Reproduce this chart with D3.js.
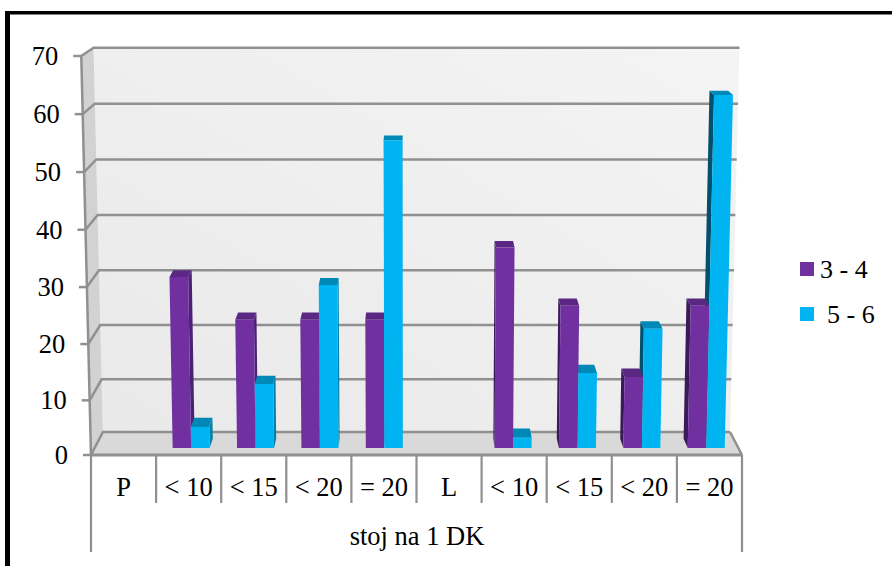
<!DOCTYPE html>
<html>
<head>
<meta charset="utf-8">
<script src="https://cdnjs.cloudflare.com/ajax/libs/d3/7.8.5/d3.min.js"></script>
<style>
  html, body { margin: 0; padding: 0; background: #fff; }
  svg { display: block; }
  text { font-family: "Liberation Serif", serif; fill: #000; }
</style>
</head>
<body>
<svg id="chart" width="892" height="566"></svg>
<script>
// Chart data
const categories = ["P", "< 10", "< 15", "< 20", "= 20", "L", "< 10", "< 15", "< 20", "= 20"];
const slotIds = d3.range(categories.length);
const seriesNames = ["3 - 4", "5 - 6"];
const group34 = [0, 30.9, 23.3, 23.3, 23.3, 0, 36.1, 25.8, 13.1, 25.8];
const group56 = [0, 4.0, 11.8, 29.5, 54.9, 0, 2.0, 13.8, 21.7, 62.8];
const yTicks = [0, 10, 20, 30, 40, 50, 60, 70];
const axisTitle = "stoj na 1 DK";

const svg = d3.select("#chart");

// Front-plane scales; the slight power curve follows the chart's foreshortening
const x = d3.scaleBand().domain(slotIds).range([91, 742]);
const y = d3.scalePow().exponent(1.0216).domain([0, 70]).range([455, 56]);
const inner = d3.scaleBand().domain(seriesNames).range([13.85, 51.25]);

// Perspective: columns lean away from the centre, depth runs to a vanishing point
const cx = 416, vy = -172, lean = 7.5e-5;
const wallDepth = 0.0367, barFront = 0.011, barBack = 0.026;

function project(px, value, depth) {
  const y0 = y(value);
  const x0 = cx + (px - cx) * (1 + lean * (455 - y0));
  return [x0 + (cx - x0) * depth, y0 + (vy - y0) * depth];
}
const poly = pts => "M" + pts.map(p => p.join(",")).join("L") + "Z";

// Wall shading
const wallGrad = svg.append("defs").append("linearGradient").attr("id", "wallGrad")
  .attr("x1", 0).attr("y1", 1).attr("x2", 1).attr("y2", 0);
wallGrad.append("stop").attr("offset", 0).attr("stop-color", "#e9e9e9");
wallGrad.append("stop").attr("offset", 1).attr("stop-color", "#f4f4f4");

const [left, right] = x.range();
const topValue = yTicks[yTicks.length - 1];

// Outer black frame, open towards the right and the bottom
svg.append("path")
  .attr("d", "M5,566V11H892V14.5H10V566Z")
  .attr("fill", "#000");

const scene = svg.append("g");
scene.append("path")
  .attr("d", poly([project(left, 0, wallDepth), project(left, topValue, wallDepth),
                   project(right, topValue, wallDepth), project(right, 0, wallDepth)]))
  .attr("fill", "url(#wallGrad)");
scene.append("path")
  .attr("d", poly([project(left, 0, 0), project(left, topValue, 0),
                   project(left, topValue, wallDepth), project(left, 0, wallDepth)]))
  .attr("fill", "#d2d2d2");
scene.append("path")
  .attr("d", poly([project(left, 0, 0), project(right, 0, 0),
                   project(right, 0, wallDepth), project(left, 0, wallDepth)]))
  .attr("fill", "#d9d9d9");

// Gridlines across the side wall and back wall
const gridColor = "#909090";
scene.append("g").selectAll("path").data(yTicks).join("path")
  .attr("d", v => {
    const a = project(left, v, 0), b = project(left, v, wallDepth), c = project(right, v, wallDepth);
    return `M${a}L${b}L${c}`;
  })
  .attr("fill", "none").attr("stroke", gridColor).attr("stroke-width", 2.5);

// Floor's right edge and the front vertical edge
scene.append("path")
  .attr("d", `M${project(right, 0, 0)}L${project(right, 0, wallDepth)}`)
  .attr("stroke", gridColor).attr("stroke-width", 2.5);
scene.append("path")
  .attr("d", `M${project(left, 0, 0)}L${project(left, topValue, 0)}`)
  .attr("stroke", gridColor).attr("stroke-width", 2.5);

// Value axis ticks and labels
const yAxis = svg.append("g");
yAxis.selectAll("path").data(yTicks).join("path")
  .attr("d", v => {
    const [px, py] = project(left, v, 0);
    return `M${px - 8},${py}H${px}`;
  })
  .attr("stroke", gridColor).attr("stroke-width", 2.5);
yAxis.selectAll("text").data(yTicks).join("text")
  .attr("x", v => project(left, v, 0)[0] - 23)
  .attr("y", v => project(left, v, 0)[1] + 9)
  .attr("text-anchor", "end")
  .attr("font-size", 26.5)
  .text(d => d);

// Category axis: the front edge, the separators and the two label rows
const xAxis = svg.append("g");
xAxis.append("path")
  .attr("d", `M${left},455H${right}`)
  .attr("stroke", gridColor).attr("stroke-width", 3);
const separators = slotIds.concat(slotIds.length);
const separatorX = i => left + i * x.step();
xAxis.selectAll("line").data(separators).join("line")
  .attr("x1", separatorX)
  .attr("x2", separatorX)
  .attr("y1", 455)
  .attr("y2", i => (i === 0 || i === slotIds.length) ? 552 : 503)
  .attr("stroke", gridColor).attr("stroke-width", 2.2);
xAxis.selectAll("text.cat").data(slotIds).join("text")
  .attr("class", "cat")
  .attr("x", i => x(i) + x.bandwidth() / 2)
  .attr("y", 496)
  .attr("text-anchor", "middle")
  .attr("font-size", 26.5)
  .text(i => categories[i]);
xAxis.append("text")
  .attr("x", 417).attr("y", 545)
  .attr("text-anchor", "middle")
  .attr("font-size", 26.5)
  .text(axisTitle);

// Bars: hidden faces first, front faces on top.
// Right-hand faces catch more light than left-hand ones.
const palette = {
  "3 - 4": { front: "#7030a0", top: "#5a2882", sideLit: "#4c2174", sideDark: "#3a1a58" },
  "5 - 6": { front: "#00b4f2", top: "#0088b6", sideLit: "#0080aa", sideDark: "#00506e" }
};
const bars = [];
slotIds.forEach(i => {
  [group34[i], group56[i]].forEach((value, s) => {
    if (value > 0) bars.push({ slot: i, name: seriesNames[s], value });
  });
});
const edges = d => {
  const l = x(d.slot) + inner(d.name);
  return { l, r: l + inner.bandwidth() };
};
const onRight = d => {
  const { l, r } = edges(d);
  return (l + r) / 2 > cx;
};
const barLayer = svg.append("g");

barLayer.selectAll("path.side").data(bars).join("path")
  .attr("class", "side")
  .attr("fill", d => onRight(d) ? palette[d.name].sideDark : palette[d.name].sideLit)
  .attr("d", d => {
    const { l, r } = edges(d);
    const edge = onRight(d) ? l : r;
    return poly([project(edge, 0, barFront), project(edge, d.value, barFront),
                 project(edge, d.value, barBack), project(edge, 0, barBack)]);
  });
barLayer.selectAll("path.top").data(bars).join("path")
  .attr("class", "top")
  .attr("fill", d => palette[d.name].top)
  .attr("d", d => {
    const { l, r } = edges(d);
    return poly([project(l, d.value, barFront), project(r, d.value, barFront),
                 project(r, d.value, barBack), project(l, d.value, barBack)]);
  });
barLayer.selectAll("path.front").data(bars).join("path")
  .attr("class", "front")
  .attr("fill", d => palette[d.name].front)
  .attr("d", d => {
    const { l, r } = edges(d);
    return poly([project(l, 0, barFront), project(l, d.value, barFront),
                 project(r, d.value, barFront), project(r, 0, barFront)]);
  });

// Legend
const legend = svg.append("g");
const legendRows = d3.scaleOrdinal().domain(seriesNames).range([262, 307]);
const legendText = d3.scaleOrdinal().domain(seriesNames).range([820, 827]);
legend.selectAll("rect").data(seriesNames).join("rect")
  .attr("x", 800).attr("y", d => legendRows(d))
  .attr("width", 14).attr("height", 14)
  .attr("fill", d => palette[d].front);
legend.selectAll("text").data(seriesNames).join("text")
  .attr("x", d => legendText(d))
  .attr("y", d => legendRows(d) + 16)
  .attr("font-size", 26)
  .text(d => d);
</script>
</body>
</html>
